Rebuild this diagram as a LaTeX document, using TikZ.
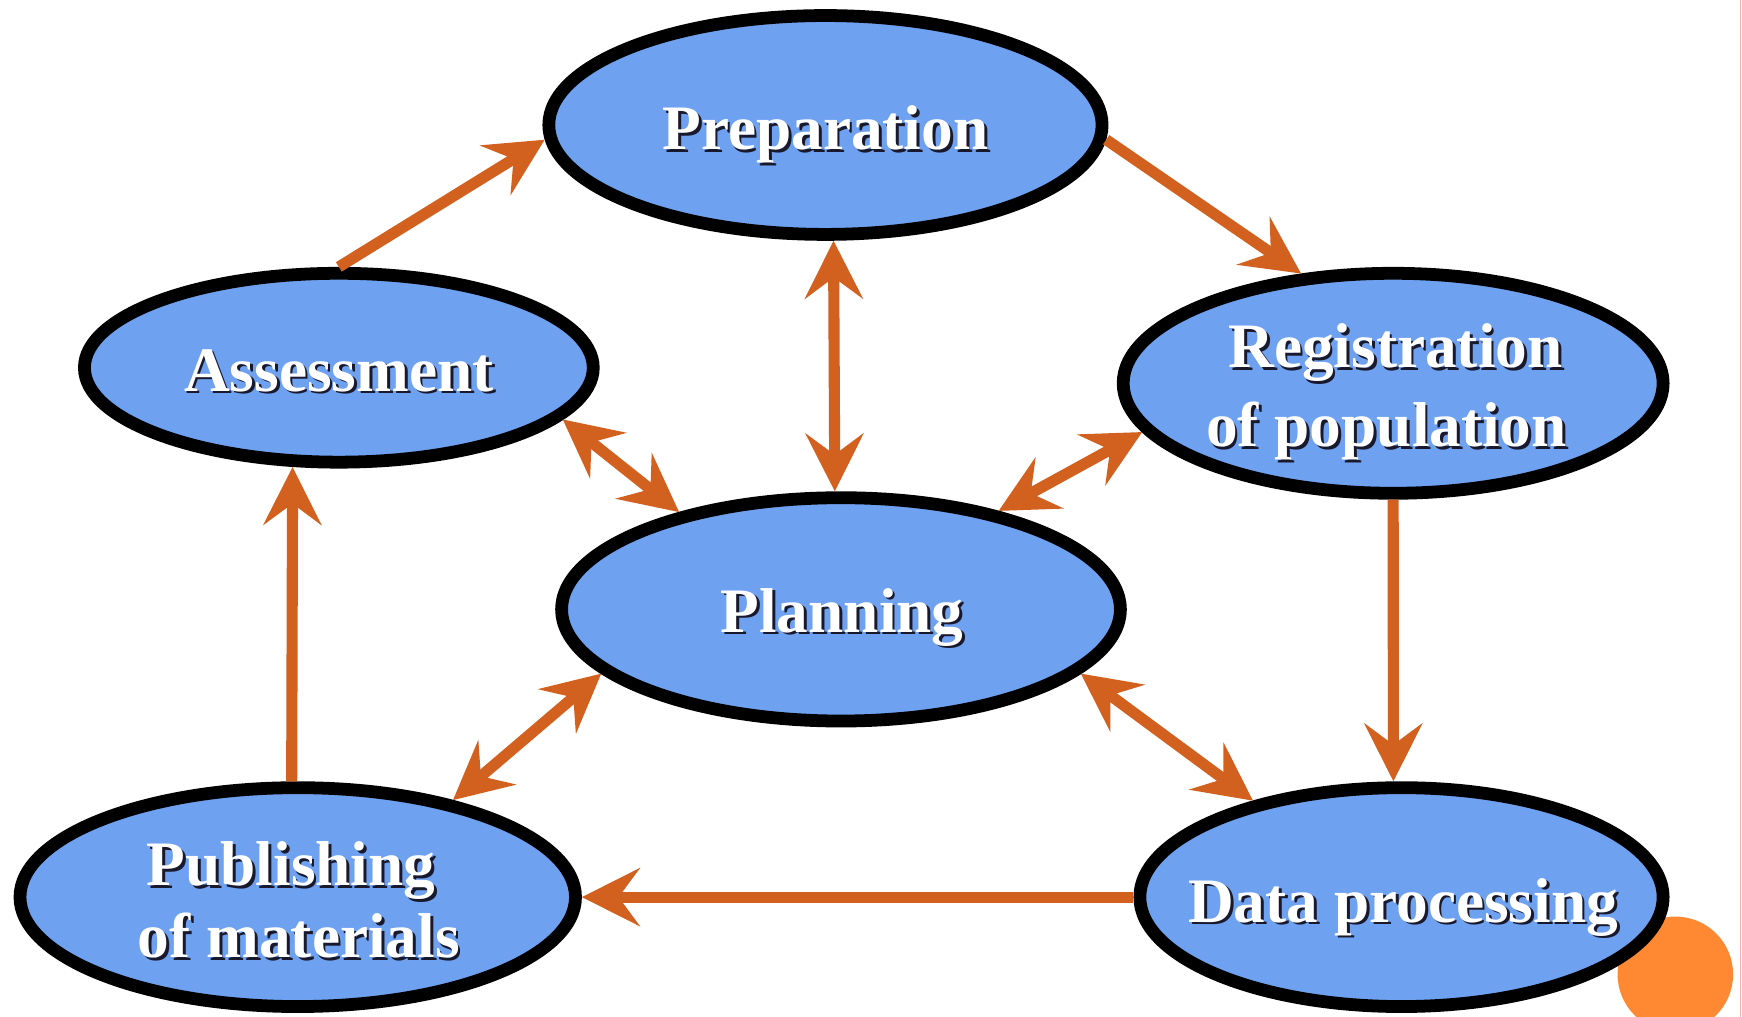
\documentclass[tikz,border=0pt]{standalone}
\usepackage{fontspec}
\setmainfont{Liberation Serif}
\usetikzlibrary{shapes.geometric,arrows.meta}
\definecolor{bubble}{RGB}{111,161,241}
\definecolor{arr}{RGB}{210,96,30}
\definecolor{dotc}{RGB}{255,136,51}
\definecolor{shadec}{RGB}{25,25,45}
\definecolor{edgec}{RGB}{240,184,168}
\tikzset{
  bub/.style={ellipse, draw=black, line width=11.5pt, fill=bubble, inner sep=0pt},
  lbl/.style={anchor=base, text=white, font=\bfseries\fontsize{57}{67}\selectfont, inner sep=0pt},
  lblsh/.style={lbl, text=shadec},
  tip/.tip={Stealth[length=52pt,width=52pt,inset=19pt]},
  link/.style={draw=arr, color=arr, line width=10pt, -tip},
  linkb/.style={draw=arr, color=arr, line width=10pt, tip-tip},
}
\newcommand\lab[4]{%
  \node[lblsh] (#1s) at (#2+2.5,#3+2.5) {#4};
  \node[lbl] (#1) at (#2,#3) {#4};}
\begin{document}
\begin{tikzpicture}[x=1pt,y=-1pt]
\useasboundingbox (0,0) rectangle (1568,915);
% decorative circle and page edge
\fill[dotc] (1508,877) circle (52);
\draw[edgec, line width=1pt] (1567,0) -- (1567,915);
% ellipses
\node[bub, minimum width=498pt, minimum height=197pt] (prep)   at (743,112.5) {};
\node[bub, minimum width=458pt, minimum height=170pt] (assess) at (305,331) {};
\node[bub, minimum width=486pt, minimum height=198pt] (reg)    at (1254,345) {};
\node[bub, minimum width=503pt, minimum height=201pt] (plan)   at (757,548.5) {};
\node[bub, minimum width=500pt, minimum height=197pt] (pub)    at (268,807.5) {};
\node[bub, minimum width=471pt, minimum height=197pt] (data)   at (1261.5,807.5) {};
% labels
\lab{tprep}{743}{135}{Preparation}
\lab{tassess}{305}{352}{Assessment}
\lab{treg1}{1256}{331}{Registration}
\lab{treg2}{1248}{402}{of population}
\lab{tplan}{758}{569}{Planning}
\lab{tpub1}{262}{797}{Publishing}
\lab{tpub2}{269}{862}{of materials}
\lab{tdata}{1263}{830}{Data processing}
% connectors
\draw[link]  (assess.north) -- (prep.183.5);
\draw[link]  (prep.-3.5) -- (reg.130.5);
\draw[linkb] (prep.-86.17) -- (plan.93.76);
\draw[linkb] (assess.-13.6) -- (plan.149.5);
\draw[linkb] (reg.191) -- (plan.32.3);
\draw[link]  (reg.south) -- (data.94.1);
\draw[linkb] (plan.-15.4) -- (data.147.7);
\draw[linkb] (plan.195.6) -- (pub.32);
\draw[link]  (data.west) -- (pub.east);
\draw[link]  (pub.93.3) -- (assess.-115.7);
\end{tikzpicture}
\end{document}
